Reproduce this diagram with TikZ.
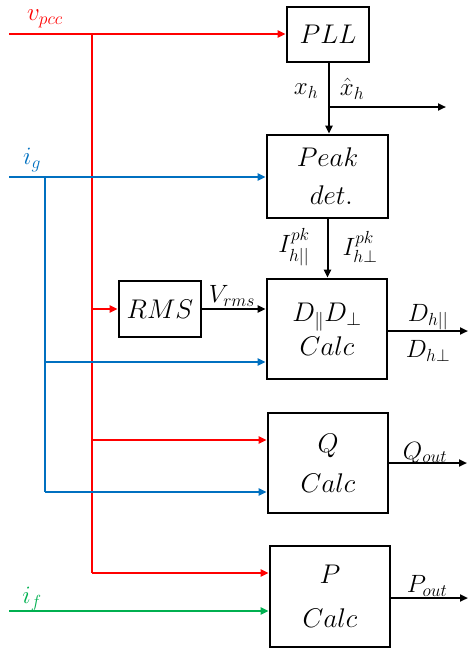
\RequirePackage{fix-cm}
\documentclass[tikz,border=0pt]{standalone}
\usepackage{amsmath}
\usetikzlibrary{arrows.meta}
\definecolor{cred}{RGB}{255,0,0}
\definecolor{cblue}{RGB}{0,112,192}
\definecolor{cgreen}{RGB}{0,176,80}
\newcommand\myboxfont{\fontsize{27}{30}\selectfont}
\newcommand\mylabfont{\fontsize{25}{27}\selectfont}
\begin{document}
\begin{tikzpicture}[x=1pt,y=-1pt,
  blk/.style={draw,line width=2.6pt,inner sep=0pt,align=center,font=\myboxfont},
  sig/.style={line width=2pt,-{Triangle[length=8pt,width=7pt]}},
  wire/.style={line width=2pt},
  lab/.style={font=\mylabfont,inner sep=0pt}]
\useasboundingbox (0,0) rectangle (469,651);
% blocks
\node[blk,minimum width=82pt,minimum height=55pt] (pll) at (328,34.5) {$PLL$};
\node[blk,minimum width=121pt,minimum height=83pt] (peak) at (327.5,176.5) {$Peak$\\[8pt]$\;det.$};
\node[blk,minimum width=82pt,minimum height=56pt] (rms) at (160,309) {$RMS$};
\node[blk,minimum width=120pt,minimum height=100pt] (dc) at (327,329) {$D_{\|}D_{\perp}$\\[4pt]$Calc$};
\node[blk,minimum width=120pt,minimum height=100pt] (qc) at (328,463) {$Q$\\[10pt]$Calc$};
\node[blk,minimum width=120pt,minimum height=101pt] (pc) at (330,596.5) {$P$\\[14pt]$Calc$};
% coordinates
\coordinate (vs) at (9,34);
\coordinate (vj) at (92,34);
\coordinate (igs) at (9,177);
\coordinate (igj) at (45,177);
\coordinate (ifs) at (9,611);
\coordinate (br) at (329,107);
\coordinate (xo) at (446,107);
\coordinate (do) at (468,331);
\coordinate (qo) at (467,463);
\coordinate (po) at (468,598);
% red v_pcc
\draw[sig,cred] (vs) -- (pll.west |- vs);
\draw[wire,cred] (vj) -- (vj |- 0,573);
\draw[sig,cred] (vj |- rms.west) -- (rms.west);
\draw[sig,cred] (vj |- 0,440) -- (qc.west |- 0,440);
\draw[sig,cred] (vj |- 0,573) -- (pc.west |- 0,573);
% blue i_g
\draw[sig,cblue] (igs) -- (peak.west |- igs);
\draw[wire,cblue] (igj) -- (igj |- 0,492);
\draw[sig,cblue] (igj |- 0,362) -- (dc.west |- 0,362);
\draw[sig,cblue] (igj |- 0,492) -- (qc.west |- 0,492);
% green i_f
\draw[sig,cgreen] (ifs) -- (pc.west |- ifs);
% black
\draw[sig,black] (br |- pll.south) -- (br |- peak.north);
\draw[sig,black] (br) -- (xo);
\draw[sig,black] (peak.south) -- (peak.south |- dc.north);
\draw[sig,black] (rms.east) -- (dc.west |- rms.east);
\draw[sig,black] (dc.east |- do) -- (do);
\draw[sig,black] (qc.east |- qo) -- (qo);
\draw[sig,black] (pc.east |- po) -- (po);
% labels
\node[lab,text=cred] (lv) at (45,19) {$v_{pcc}$};
\node[lab,text=cblue] (lig) at (32,160) {$i_g$};
\node[lab,text=cgreen] (lif) at (32,599) {$i_f$};
\node[lab] (lxh) at (306,91) {$x_h$};
\node[lab] (lxhh) at (352,89) {$\hat{x}_h$};
\node[lab] (lip) at (294,247) {$I_{h||}^{pk}$};
\node[lab] (lipp) at (360,247) {$I_{h\perp}^{pk}$};
\node[lab] (lvr) at (232,296) {$V_{rms}$};
\node[lab] (ldp) at (428,317) {$D_{h||}$};
\node[lab] (ldq) at (428,351) {$D_{h\perp}$};
\node[lab] (lq) at (425,453) {$Q_{out}$};
\node[lab] (lp) at (427,586) {$P_{out}$};
\end{tikzpicture}
\end{document}
